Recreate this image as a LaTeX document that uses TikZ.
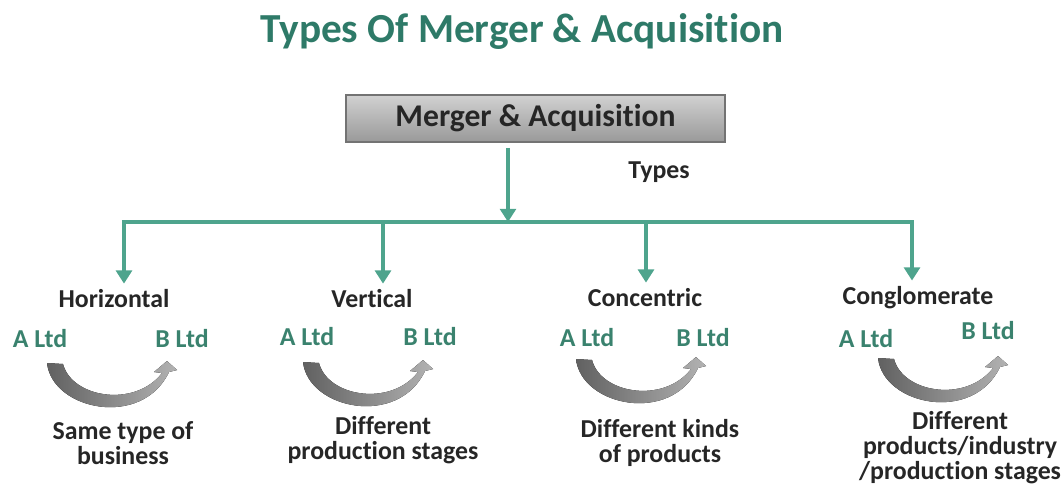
\documentclass[tikz,border=0pt]{standalone}
\usepackage{fontspec}
\setmainfont{Carlito}[Ligatures={NoCommon,NoContextual}]
\usetikzlibrary{arrows.meta}

\definecolor{mateal}{RGB}{78,164,141}
\definecolor{titlegreen}{RGB}{46,122,104}
\definecolor{ltdgreen}{RGB}{58,130,110}
\definecolor{darktext}{RGB}{38,38,38}

\tikzset{
	flow/.style={draw=mateal, line width=2.3pt, -{Triangle[width=9pt,length=7.5pt]}},
	link/.style={draw=mateal, line width=2.3pt},
	kind/.style={font=\bfseries\fontsize{14.7}{15}\selectfont, text=darktext},
	ltd/.style={font=\bfseries\fontsize{14.7}{15}\selectfont, text=ltdgreen},
	note/.style={font=\bfseries\fontsize{14.7}{14.2}\selectfont, text=darktext, align=center},
	bendarrow/.pic={
		\begin{scope}[x=0.02cm,y=-0.02cm]
		\fill[left color=black!62, right color=black!30]
			(0,0) .. controls (5,47) and (95,66) .. (122,9)
			-- (130,7) -- (120,-2) -- (107,9) -- (115,10)
			.. controls (88,45) and (25,35) .. (16,1) -- cycle;
		\end{scope}
	}
}

\begin{document}
\begin{tikzpicture}
	\useasboundingbox (0,0) rectangle (21.28,-9.72);

	% Heading
	\node[font=\bfseries\fontsize{23.5}{25}\selectfont, text=titlegreen] (title) at (10.44,-0.64) {Types Of Merger \& Acquisition};

	\node[draw=black!55, line width=0.6pt, top color=black!18, bottom color=black!40,
		minimum width=7.58cm, minimum height=0.94cm,
		font=\bfseries\fontsize{18}{20}\selectfont, text=darktext] (ma) at (10.71,-2.37) {Merger \& Acquisition};
	\node[kind] (types) at (13.18,-3.44) {Types};

	% Tree
	\coordinate (hub) at (10.16,-4.44);
	\coordinate (d1) at (2.48,-4.44);
	\coordinate (d2) at (7.66,-4.44);
	\coordinate (d3) at (12.92,-4.44);
	\coordinate (d4) at (18.24,-4.44);

	\node[kind] (hor) at (2.28,-5.98) {Horizontal};
	\node[kind] (ver) at (7.44,-5.98) {Vertical};
	\node[kind] (con) at (12.90,-5.96) {Concentric};
	\node[kind] (cong) at (18.36,-5.96) {Conglomerate};

	\draw[flow, shorten <=3pt] (ma.south -| hub) -- (hub);
	\draw[link] ([xshift=-1.15pt]d1) -- ([xshift=1.15pt]d4);
	\draw[flow] (d1) -- (d1 |- hor.north);
	\draw[flow] (d2) -- (d2 |- ver.north);
	\draw[flow] (d3) -- (d3 |- con.north);
	\draw[flow] (d4) -- (d4 |- cong.north);

	% Companies
	\node[ltd] (horA) at (0.80,-6.78) {A Ltd};
	\node[ltd] (horB) at (3.64,-6.78) {B Ltd};
	\node[ltd] (verA) at (6.14,-6.74) {A Ltd};
	\node[ltd] (verB) at (8.60,-6.74) {B Ltd};
	\node[ltd] (conA) at (11.74,-6.76) {A Ltd};
	\node[ltd] (conB) at (14.06,-6.76) {B Ltd};
	\node[ltd] (congA) at (17.32,-6.78) {A Ltd};
	\node[ltd] (congB) at (19.76,-6.62) {B Ltd};

	\pic at (0.94,-7.26) {bendarrow};
	\pic at (6.06,-7.24) {bendarrow};
	\pic at (11.52,-7.18) {bendarrow};
	\pic at (17.56,-7.16) {bendarrow};

	% Notes
	\node[note] (horTxt) at (2.46,-8.86) {Same type of\\business};
	\node[note] (verTxt) at (7.66,-8.80) {Different\\production stages};
	\node[note] (conTxt) at (13.20,-8.85) {Different kinds\\of products};
	\node[note] (congTxt) at (19.20,-8.96) {Different\\products/industry\\/production stages};
\end{tikzpicture}
\end{document}
